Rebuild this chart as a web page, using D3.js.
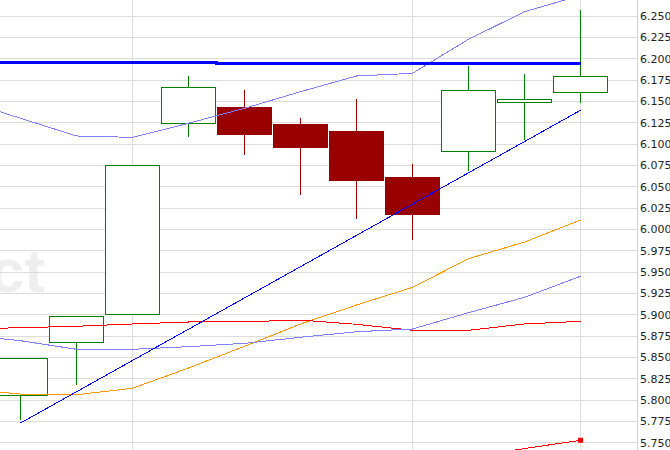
<!DOCTYPE html>
<html>
<head>
<meta charset="utf-8">
<script src="https://cdn.jsdelivr.net/npm/d3@7/dist/d3.min.js"></script>
<style>
  html, body { margin: 0; padding: 0; background: #ffffff; }
  svg { display: block; }
</style>
</head>
<body>
<script>
// ---------- data ----------
const candleIndex = [0, 1, 2, 3, 4, 5, 6, 7, 8, 9, 10];
const openVals  = [5.8047, 5.8676, 5.9004, 6.1242, 6.1422, 6.1223, 6.1152, 6.0613, 6.0914, 6.1489, 6.1606];
const highVals  = [5.8489, 5.8981, 6.0750, 6.1797, 6.1633, 6.1305, 6.1527, 6.0766, 6.1914, 6.1820, 6.2570];
const lowVals   = [5.7762, 5.8179, 5.9004, 6.1086, 6.0875, 6.0406, 6.0125, 5.9879, 6.0684, 6.1047, 6.1484];
const closeVals = [5.8489, 5.8981, 6.0750, 6.1664, 6.1109, 6.0957, 6.0570, 6.0172, 6.1629, 6.1524, 6.1793];

// overlay series (index -1 .. 10)
const lineIndex  = [-1, 0, 1, 2, 3, 4, 5, 6, 7, 8, 9, 10];
const upperBand  = [6.1509, 6.1302, 6.1094, 6.1078, 6.1243, 6.1418, 6.1613, 6.1797, 6.1828, 6.2227, 6.2550, 6.2741];
const lowerBand  = [5.8762, 5.8695, 5.8594, 5.8594, 5.8625, 5.8664, 5.8735, 5.8800, 5.8832, 5.9023, 5.9203, 5.9450];
const orangeMA   = [5.8129, 5.8070, 5.8062, 5.8137, 5.8375, 5.8629, 5.8890, 5.9113, 5.9320, 5.9656, 5.9851, 6.0109];
const redMA      = [5.8832, 5.8847, 5.8864, 5.8891, 5.8914, 5.8917, 5.8937, 5.8887, 5.8817, 5.8817, 5.8891, 5.8922];
const levelLine  = [6.1957, 6.1957, 6.1957, 6.1957, 6.1957, 6.1946, 6.1946, 6.1946, 6.1946, 6.1946, 6.1946, 6.1946];

// trend line (two anchor points)
const trendIndex = [0, 10];
const trendVals  = [5.7730, 6.1395];

// lower indicator line
const indIndex = [8, 9, 10];
const indVals  = [5.7330, 5.7431, 5.7528];

// axis
const yTicks = [5.750, 5.775, 5.800, 5.825, 5.850, 5.875, 5.900, 5.925, 5.950, 5.975,
                6.000, 6.025, 6.050, 6.075, 6.100, 6.125, 6.150, 6.175, 6.200, 6.225, 6.250];
const xGridIndex = [2, 7, 10];
const watermarkText = "ct";

// ---------- chart ----------
const W = 670, H = 450;
const plotRight = 637;

const x = d3.scaleLinear().domain([0, 10]).range([20.5, 580.5]);
const y = d3.scaleLinear().domain([5.75, 6.25]).range([442.67, 16]);
const snap = v => Math.floor(v) + 0.5;
const halfBody = 27;

const svg = d3.select("body").append("svg").attr("width", W).attr("height", H);

svg.append("defs").append("clipPath").attr("id", "plotClip")
  .append("rect").attr("x", 0).attr("y", 0).attr("width", plotRight).attr("height", H);

const plot = svg.append("g").attr("clip-path", "url(#plotClip)");

// watermark
plot.append("text")
  .attr("x", 45).attr("y", 292)
  .attr("text-anchor", "end")
  .attr("font-family", "'Liberation Sans', Arial, sans-serif")
  .attr("font-weight", "bold")
  .attr("font-size", 62)
  .attr("fill", "#eeeeee")
  .text(watermarkText);

// gridlines
plot.append("g").selectAll("line.h").data(yTicks).join("line")
  .attr("x1", 0).attr("x2", plotRight)
  .attr("y1", d => snap(y(d))).attr("y2", d => snap(y(d)))
  .attr("stroke", "#dcdcdc").attr("stroke-width", 1).attr("shape-rendering", "crispEdges");

plot.append("g").selectAll("line.v").data(xGridIndex).join("line")
  .attr("x1", d => x(d)).attr("x2", d => x(d))
  .attr("y1", 0).attr("y2", H)
  .attr("stroke", "#dcdcdc").attr("stroke-width", 1).attr("shape-rendering", "crispEdges");

// right axis line
svg.append("line")
  .attr("x1", plotRight + 0.5).attr("x2", plotRight + 0.5).attr("y1", 0).attr("y2", H)
  .attr("stroke", "#d0d0d0").attr("stroke-width", 1).attr("shape-rendering", "crispEdges");

// axis labels via d3 axis
const axis = d3.axisRight(y).tickValues(yTicks).tickFormat(d3.format(".3f")).tickSize(0).tickPadding(0);
const axG = svg.append("g").attr("transform", `translate(${plotRight + 3},0)`).call(axis);
axG.select(".domain").remove();
axG.selectAll("text")
  .attr("font-family", "'DejaVu Sans', Verdana, sans-serif")
  .attr("font-size", 11)
  .attr("fill", "#222222");

// candles
const candles = candleIndex.map((d, k) => ({
  i: d, o: openVals[k], h: highVals[k], l: lowVals[k], c: closeVals[k]
}));

const cg = plot.append("g");
candles.forEach(d => {
  const up = d.c >= d.o;
  const col = up ? "#008000" : "#990000";
  const top = snap(y(Math.max(d.o, d.c)));
  const bot = snap(y(Math.min(d.o, d.c)));
  // wick
  cg.append("line")
    .attr("x1", x(d.i)).attr("x2", x(d.i))
    .attr("y1", y(d.h)).attr("y2", y(d.l))
    .attr("stroke", col).attr("stroke-width", 1).attr("shape-rendering", "crispEdges");
  // body
  cg.append("rect")
    .attr("x", x(d.i) - halfBody).attr("y", top)
    .attr("width", halfBody * 2).attr("height", Math.max(1, bot - top))
    .attr("fill", up ? "#ffffff" : "#990000")
    .attr("stroke", col).attr("stroke-width", 1)
    .attr("shape-rendering", "crispEdges");
});

// overlay lines
const mkLine = (idx, vals) => d3.line().x((d, k) => x(idx[k])).y(d => y(d))(vals);

function drawLine(idx, vals, color, width, curve) {
  const gen = d3.line().x((d, k) => x(idx[k])).y(d => y(d));
  if (curve) gen.curve(curve);
  plot.append("path")
    .attr("d", gen(vals))
    .attr("fill", "none").attr("stroke", color).attr("stroke-width", width)
    .attr("shape-rendering", "crispEdges");
}

drawLine(lineIndex, orangeMA, "#ff9900", 1);
drawLine(lineIndex, redMA, "#ff0000", 1);
drawLine(lineIndex, lowerBand, "#8080ff", 1);
drawLine(lineIndex, upperBand, "#8080ff", 1);
drawLine(lineIndex, levelLine, "#0000ff", 3, d3.curveStep);
drawLine(trendIndex, trendVals, "#0000ff", 1);
drawLine(indIndex, indVals, "#ff0000", 1);

// indicator end marker
const lastK = indIndex.length - 1;
plot.append("rect")
  .attr("x", x(indIndex[lastK]) - 2.5).attr("y", y(indVals[lastK]) - 2.5)
  .attr("width", 5).attr("height", 5)
  .attr("fill", "#ff0000");
</script>
</body>
</html>
